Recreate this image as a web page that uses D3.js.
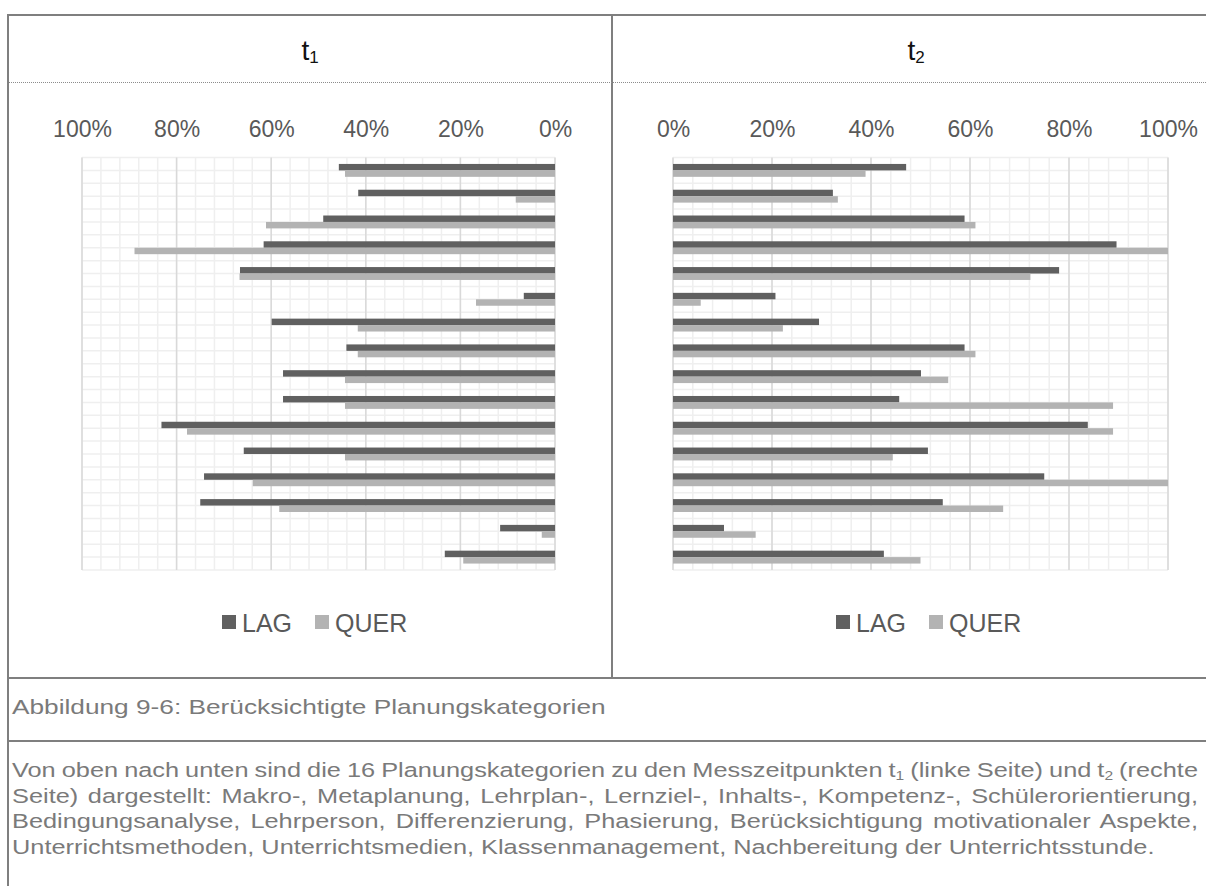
<!DOCTYPE html>
<html>
<head>
<meta charset="utf-8">
<script src="https://cdn.jsdelivr.net/npm/d3@7"></script>
<style>
  html, body { margin: 0; padding: 0; background: #fff; }
  svg { display: block; font-family: "Liberation Sans", Arial, sans-serif; }
</style>
</head>
<body>
<svg id="fig" width="1206" height="886"></svg>
<script>
// Planning categories, top to bottom
const categories = [
  "Makroplanung", "Metaplanung", "Lehrplanorientierung", "Lernzielorientierung",
  "Inhaltsorientierung", "Kompetenzorientierung", "Schülerorientierung", "Bedingungsanalyse",
  "Lehrperson", "Differenzierung", "Phasierung", "Motivationale Aspekte",
  "Unterrichtsmethoden", "Unterrichtsmedien", "Klassenmanagement", "Nachbereitung"
];

// Share of plans (%) that take each category into account
const lagT1  = [45.7, 41.6, 49.0, 61.6, 66.6, 6.6, 59.9, 44.1, 57.5, 57.5, 83.2, 65.8, 74.2, 75.0, 11.6, 23.3];
const querT1 = [44.4, 8.3, 61.1, 88.9, 66.7, 16.7, 41.7, 41.7, 44.4, 44.4, 77.8, 44.4, 63.9, 58.3, 2.8, 19.4];
const lagT2  = [47.1, 32.3, 58.9, 89.6, 78.0, 20.7, 29.5, 58.9, 50.1, 45.7, 83.8, 51.5, 75.0, 54.5, 10.3, 42.6];
const querT2 = [38.9, 33.3, 61.1, 100, 72.2, 5.6, 22.2, 61.1, 55.6, 88.9, 88.9, 44.4, 100, 66.7, 16.7, 50.0];

const seriesNames = ["LAG", "QUER"];
const tickValues = [0, 20, 40, 60, 80, 100];
const panelTitles = ["1", "2"];   // subscripts of t

const captionTitle = "Abbildung 9-6: Berücksichtigte Planungskategorien";
const descriptionLines = [
  [["Von oben nach unten sind die 16 Planungskategorien zu den Messzeitpunkten t"], ["1", true], [" (linke Seite) und t"], ["2", true], [" (rechte"]],
  [["Seite) dargestellt: Makro-, Metaplanung, Lehrplan-, Lernziel-, Inhalts-, Kompetenz-, Schülerorientierung,"]],
  [["Bedingungsanalyse, Lehrperson, Differenzierung, Phasierung, Berücksichtigung motivationaler Aspekte,"]],
  [["Unterrichtsmethoden, Unterrichtsmedien, Klassenmanagement, Nachbereitung der Unterrichtsstunde."]]
];

const svg = d3.select("#fig");
const W = 1206, H = 886;

const colors = { LAG: "#606060", QUER: "#b3b3b3" };
const frame = "#7f7f7f";

// ---- table frame ----
const gFrame = svg.append("g");
const tableLeft = 8, tableTop = 15, rowChart = 678, rowCaption = 741, divider = 612;
gFrame.append("line").attr("x1", tableLeft).attr("x2", W).attr("y1", tableTop).attr("y2", tableTop)
  .attr("stroke", frame).attr("stroke-width", 2);
gFrame.append("line").attr("x1", tableLeft).attr("x2", tableLeft).attr("y1", tableTop - 1).attr("y2", H)
  .attr("stroke", frame).attr("stroke-width", 2);
gFrame.append("line").attr("x1", divider).attr("x2", divider).attr("y1", tableTop).attr("y2", rowChart)
  .attr("stroke", frame).attr("stroke-width", 2);
gFrame.append("line").attr("x1", tableLeft).attr("x2", W).attr("y1", rowChart).attr("y2", rowChart)
  .attr("stroke", frame).attr("stroke-width", 2);
gFrame.append("line").attr("x1", tableLeft).attr("x2", W).attr("y1", rowCaption).attr("y2", rowCaption)
  .attr("stroke", frame).attr("stroke-width", 2);
gFrame.append("line").attr("x1", tableLeft + 1).attr("x2", W).attr("y1", 82.5).attr("y2", 82.5)
  .attr("stroke", "#8c8c8c").attr("stroke-width", 1).attr("stroke-dasharray", "1,1");

// ---- panels ----
const plotTop = 157.5, plotBottom = 570;
const panels = [
  { lag: lagT1, quer: querT1, range: [555, 82], titleX: 310, legendX: 222, sub: panelTitles[0] },
  { lag: lagT2, quer: querT2, range: [673, 1168], titleX: 916, legendX: 836, sub: panelTitles[1] }
];

const y = d3.scaleBand().domain(categories).range([plotTop, plotBottom]).padding(0);
const barH = y.bandwidth() * 0.25;

panels.forEach(p => {
  const x = d3.scaleLinear().domain([0, 100]).range(p.range);
  const g = svg.append("g");

  // panel title t1 / t2
  const title = g.append("text").attr("x", p.titleX).attr("y", 60)
    .attr("text-anchor", "middle").attr("fill", "#111").attr("font-size", 28);
  title.append("tspan").text("t");
  title.append("tspan").attr("font-size", 17).attr("dy", 3).text(p.sub);

  // minor grid
  const xLo = Math.min(...p.range), xHi = Math.max(...p.range);
  const halfRows = d3.range(0, categories.length * 2 + 1);
  g.append("g").selectAll("line").data(halfRows).join("line")
    .attr("x1", xLo).attr("x2", xHi)
    .attr("y1", i => plotTop + i * y.bandwidth() / 2)
    .attr("y2", i => plotTop + i * y.bandwidth() / 2)
    .attr("stroke", "#efefef").attr("stroke-width", 1.5);
  g.append("g").selectAll("line").data(d3.range(0, 101, 4)).join("line")
    .attr("x1", d => x(d)).attr("x2", d => x(d))
    .attr("y1", plotTop).attr("y2", plotBottom)
    .attr("stroke", "#efefef").attr("stroke-width", 1.5);
  // major grid
  g.append("g").selectAll("line").data(tickValues).join("line")
    .attr("x1", d => x(d)).attr("x2", d => x(d))
    .attr("y1", plotTop).attr("y2", plotBottom)
    .attr("stroke", "#d9d9d9").attr("stroke-width", 1.5);

  // percentage axis on top
  const axis = d3.axisTop(x).tickValues(tickValues)
    .tickFormat(d => d + "%").tickSize(0).tickPadding(0);
  const ga = g.append("g").attr("transform", "translate(0,137)").call(axis);
  ga.select(".domain").remove();
  ga.selectAll("text").attr("fill", "#595959").attr("font-size", 23)
    .attr("font-family", "'Liberation Sans', Arial, sans-serif");

  // bars
  const x0 = x(0);
  g.append("g").selectAll("rect").data(categories).join("rect")
    .attr("x", (c, i) => Math.min(x0, x(p.lag[i])))
    .attr("width", (c, i) => Math.abs(x(p.lag[i]) - x0))
    .attr("y", c => y(c) + y.bandwidth() / 2 - barH)
    .attr("height", barH)
    .attr("fill", colors.LAG);
  g.append("g").selectAll("rect").data(categories).join("rect")
    .attr("x", (c, i) => Math.min(x0, x(p.quer[i])))
    .attr("width", (c, i) => Math.abs(x(p.quer[i]) - x0))
    .attr("y", c => y(c) + y.bandwidth() / 2)
    .attr("height", barH)
    .attr("fill", colors.QUER);

  // legend
  const lg = g.append("g").attr("transform", `translate(${p.legendX},615)`);
  const offsets = [0, 93];
  seriesNames.forEach((s, i) => {
    lg.append("rect").attr("x", offsets[i]).attr("y", 0).attr("width", 14).attr("height", 14)
      .attr("fill", colors[s]);
    lg.append("text").attr("x", offsets[i] + 20).attr("y", 17).attr("font-size", 25)
      .attr("fill", "#595959").text(s);
  });
});

// ---- caption (wide-set text) ----
const stretch = 1.3;
const textLeft = 12, textRight = 1198;

svg.append("g").attr("transform", `translate(${textLeft},714) scale(${stretch},1)`)
  .append("text").attr("x", 0).attr("y", 0).attr("font-size", 20.2)
  .attr("fill", "#7a7a7a").text(captionTitle);

const lineY = [777, 802.5, 828, 853.5];
descriptionLines.forEach((parts, li) => {
  const t = svg.append("g").attr("transform", `translate(${textLeft},${lineY[li]}) scale(${stretch},1)`)
    .append("text").attr("x", 0).attr("y", 0)
    .attr("font-size", 19.5).attr("fill", "#7a7a7a");
  parts.forEach(([str, sub]) => {
    if (sub) {
      t.append("tspan").attr("font-size", 12).attr("dy", 3).text(str);
    } else {
      const ts = t.append("tspan").text(str);
      if (t.selectAll("tspan").size() > 1) ts.attr("dy", -3);
    }
  });
  // justify every line but the last
  if (li < descriptionLines.length - 1) {
    const full = parts.map(d => d[0]).join("");
    const spaces = (full.match(/ /g) || []).length;
    const len = t.node().getComputedTextLength();
    t.attr("word-spacing", ((textRight - textLeft) / stretch - len) / spaces);
  }
});
</script>
</body>
</html>
